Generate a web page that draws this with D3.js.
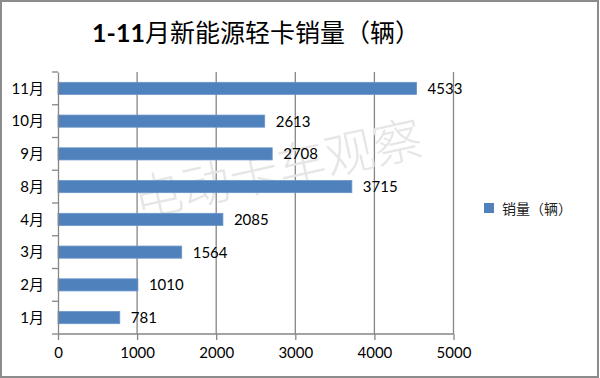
<!DOCTYPE html>
<html>
<head>
<meta charset="utf-8">
<script src="https://cdn.jsdelivr.net/npm/d3@7"></script>
<style>
  html, body { margin: 0; padding: 0; background: #fff; }
  svg { display: block; }
</style>
</head>
<body>
<svg id="chart" width="600" height="378"></svg>
<script>
const categories = ["11月", "10月", "9月", "8月", "4月", "3月", "2月", "1月"];
const sales = [4533, 2613, 2708, 3715, 2085, 1564, 1010, 781];
const xTicks = [0, 1000, 2000, 3000, 4000, 5000];
const titleBold = "1-11";
const titleRest = "月新能源轻卡销量（辆）";
const legendLabel = "销量（辆）";
const watermark = "电动卡车观察";

const svg = d3.select("#chart");
const W = 600, H = 378;
const latin = "Lato, 'Noto Sans CJK SC', sans-serif";
const cjk = "'Noto Sans CJK SC', sans-serif";
const axisColor = "#868686";

svg.append("rect").attr("x", 0).attr("y", 0).attr("width", W).attr("height", H).attr("fill", "#fff");

const x = d3.scaleLinear().domain([0, 5000]).range([58, 453.5]);
const y = d3.scaleBand().domain(categories).range([72, 334]).paddingInner(0.63).paddingOuter(0.315);

// gridlines
svg.append("g").selectAll("line").data(xTicks.filter(d => d > 0)).join("line")
  .attr("x1", d => x(d)).attr("x2", d => x(d))
  .attr("y1", 72).attr("y2", 334)
  .attr("stroke", axisColor).attr("stroke-width", 1.3);

// watermark
svg.append("text")
  .attr("transform", "translate(138,218) rotate(-12.5)")
  .attr("font-family", cjk).attr("font-weight", 300)
  .attr("font-size", 49).attr("fill", "#e6e6e6")
  .text(watermark);

// bars
svg.append("g").selectAll("rect").data(sales).join("rect")
  .attr("x", x(0))
  .attr("y", (d, i) => y(categories[i]))
  .attr("width", d => x(d) - x(0))
  .attr("height", y.bandwidth())
  .attr("fill", "#4f81bd")
  .attr("stroke", "#6a95c9").attr("stroke-width", 0.8);

// data labels
svg.append("g").selectAll("text").data(sales).join("text")
  .attr("x", d => x(d) + 11)
  .attr("y", (d, i) => y(categories[i]) + y.bandwidth() / 2 + 5.5)
  .attr("font-family", latin).attr("font-size", 15).attr("fill", "#000")
  .text(d => d);

// left axis
const leftAxis = d3.axisLeft(y).tickSize(0).tickPadding(14);
const gl = svg.append("g").attr("transform", `translate(${x(0)},0)`).call(leftAxis);
gl.select(".domain").attr("stroke", axisColor).attr("stroke-width", 1.3);
gl.selectAll("text").attr("font-family", latin).attr("font-size", 15).attr("fill", "#000").attr("dy", "0.35em");
const boundaries = d3.range(categories.length + 1).map(i => 72 + i * y.step());
svg.append("g").selectAll("line").data(boundaries).join("line")
  .attr("x1", x(0) - 6).attr("x2", x(0))
  .attr("y1", d => d).attr("y2", d => d)
  .attr("stroke", axisColor).attr("stroke-width", 1.3);

// bottom axis
const bottomAxis = d3.axisBottom(x).tickValues(xTicks).tickSize(6).tickPadding(7).tickFormat(d3.format("d"));
const gb = svg.append("g").attr("transform", "translate(0,334)").call(bottomAxis);
gb.select(".domain").attr("stroke", axisColor).attr("stroke-width", 1.3).attr("d", `M${x(0)},0H${x(5000)}`);
gb.selectAll(".tick line").attr("stroke", axisColor).attr("stroke-width", 1.3);
gb.selectAll("text").attr("font-family", latin).attr("font-size", 15).attr("fill", "#000");

// title
const title = svg.append("text")
  .attr("x", 256).attr("y", 42).attr("text-anchor", "middle")
  .attr("font-size", 25).attr("fill", "#000");
title.append("tspan").attr("font-family", latin).attr("font-weight", 700).text(titleBold);
title.append("tspan").attr("font-family", cjk).text(titleRest);

// legend
svg.append("rect").attr("x", 484).attr("y", 203).attr("width", 10).attr("height", 10).attr("fill", "#4f81bd");
svg.append("text").attr("x", 502).attr("y", 214).attr("font-family", cjk).attr("font-size", 14).attr("fill", "#222").text(legendLabel);

// border
svg.append("rect").attr("x", 1).attr("y", 1).attr("width", W - 3).attr("height", H - 2)
  .attr("fill", "none").attr("stroke", "#8c8c8c").attr("stroke-width", 2);
</script>
</body>
</html>
